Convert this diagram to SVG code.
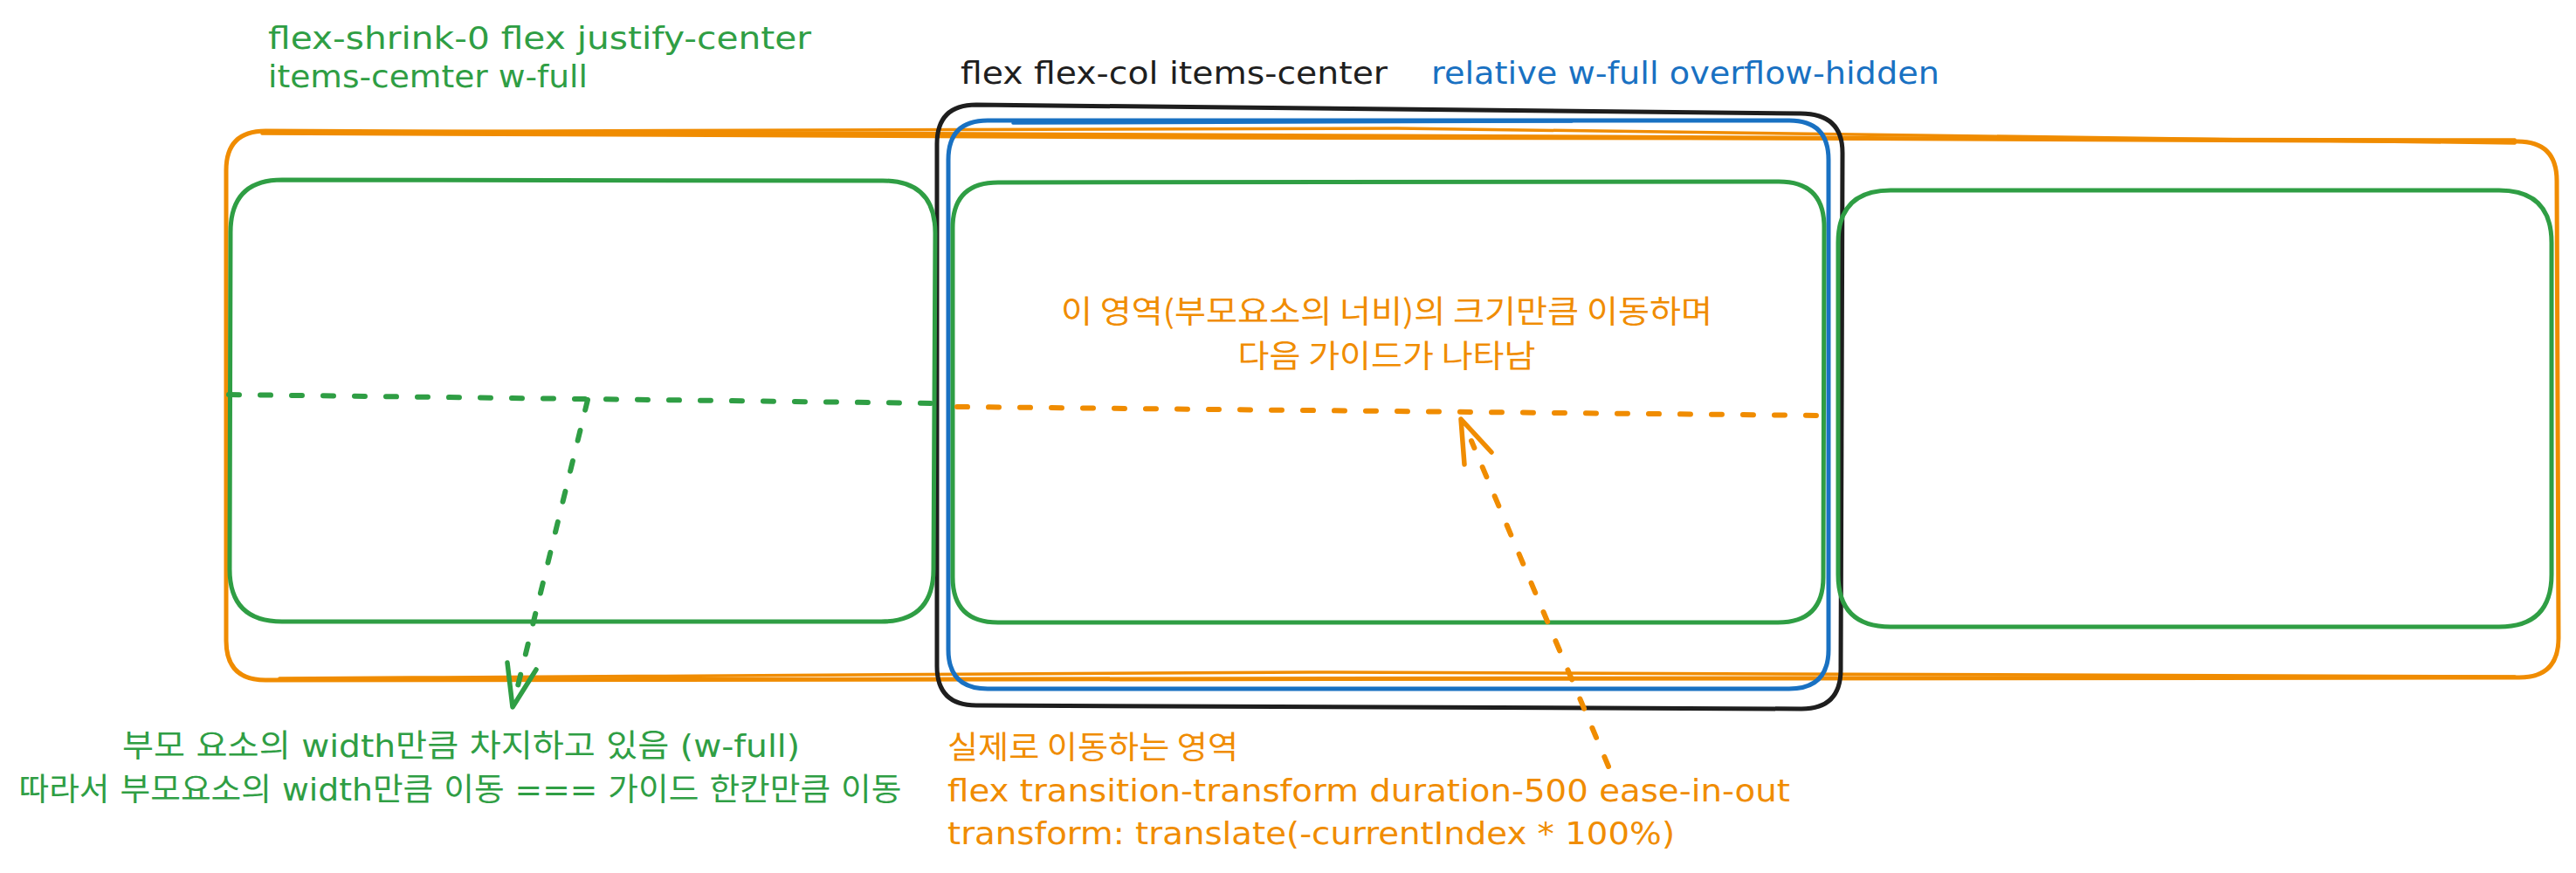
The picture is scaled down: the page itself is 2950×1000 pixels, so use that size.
<svg xmlns="http://www.w3.org/2000/svg" width="2950" height="1000" viewBox="0 0 2950 1000">
<style>
.t{font-family:"DejaVu Sans","Noto Sans CJK KR",sans-serif;font-size:36px}
.k{font-family:"Noto Sans CJK KR","DejaVu Sans",sans-serif;font-size:36px}
.g{fill:#2f9e44}.o{fill:#f08c00}.b{fill:#1971c2}.d{fill:#1e1e1e}
.box{fill:none;stroke-width:5;stroke-linecap:round;stroke-linejoin:round}
.thin{stroke-width:3.5}
.sg{stroke:#2f9e44}.so{stroke:#f08c00}.sb{stroke:#1971c2}.sd{stroke:#1e1e1e}
.dash{fill:none;stroke-width:6;stroke-linecap:round;stroke-dasharray:12 24}
.head{fill:none;stroke-width:5.5;stroke-linecap:round;stroke-linejoin:round}
</style>
<rect width="2950" height="1000" fill="#ffffff"/>
<g id="outer-track">
<path class="box so" d="M304,150 L2883,162 Q2928,162 2928,207 L2930,731 Q2930,776 2885,776 L304,779 Q259,779 259,734 L259,195 Q259,150 304,150 Z"/>
<path class="box thin so" d="M300,153 L1400,158 L2880,160"/>
<path class="box thin so" d="M320,151 L1600,147 L2880,164"/>
<path class="box thin so" d="M320,777 L1500,770 L2880,775"/>
</g>
<g id="flex-col">
<path class="box sd" d="M1118,120 L2062,130 Q2110,130 2110,175 L2108,767 Q2108,812 2063,812 L1118,808 Q1073,808 1073,763 L1073,165 Q1073,120 1118,120 Z"/>
</g>
<g id="overflow-hidden">
<path class="box sb" d="M1131,138 L2049,138 Q2094,138 2094,183 L2094,744 Q2094,789 2049,789 L1131,789 Q1086,789 1086,744 L1086,183 Q1086,138 1131,138 Z"/>
<path class="box thin sb" d="M1160,141 L1800,139"/>
</g>
<g id="guide-left">
<path class="box sg" d="M323,206 L1011,207 Q1071,207 1071,267 L1069,652 Q1069,712 1009,712 L323,712 Q263,712 263,652 L264,266 Q264,206 323,206 Z"/>
</g>
<g id="guide-middle">
<path class="box sg" d="M1143,209 L2037,208 Q2089,208 2089,260 L2088,661 Q2088,713 2036,713 L1143,713 Q1091,713 1091,661 L1091,261 Q1091,209 1143,209 Z"/>
</g>
<g id="guide-right">
<path class="box sg" d="M2165,218 L2862,218 Q2922,218 2922,278 L2922,658 Q2922,718 2862,718 L2165,718 Q2105,718 2105,658 L2105,278 Q2105,218 2165,218 Z"/>
</g>
<g id="connectors">
<path class="dash sg" d="M262,452 L1074,462"/>
<path class="dash sg" d="M673,458 L590,798"/>
<path class="head sg" d="M581,759 L587,810 L614,767"/>
<path class="dash so" d="M1096,466 L2087,476"/>
<path class="dash so" d="M1842,878 L1685,505"/>
<path class="head so" d="M1677,532 L1673,480 L1708,518"/>
</g>
<g id="labels">
<text class="t g" x="307" y="56" textLength="622" lengthAdjust="spacingAndGlyphs">flex-shrink-0 flex justify-center</text>
<text class="t g" x="307" y="100" textLength="366" lengthAdjust="spacingAndGlyphs">items-cemter w-full</text>
<text class="t d" x="1100" y="96" textLength="489" lengthAdjust="spacingAndGlyphs">flex flex-col items-center</text>
<text class="t b" x="1639" y="96" textLength="582" lengthAdjust="spacingAndGlyphs">relative w-full overflow-hidden</text>
<text class="k o" x="1588" y="370" text-anchor="middle" textLength="746" lengthAdjust="spacingAndGlyphs">이 영역(부모요소의 너비)의 크기만큼 이동하며</text>
<text class="k o" x="1588" y="421" text-anchor="middle" textLength="341" lengthAdjust="spacingAndGlyphs">다음 가이드가 나타남</text>
<text class="t g" x="528" y="867" text-anchor="middle" textLength="776" lengthAdjust="spacingAndGlyphs">부모 요소의 width만큼 차지하고 있음 (w-full)</text>
<text class="t g" x="527" y="917" text-anchor="middle" textLength="1011" lengthAdjust="spacingAndGlyphs">따라서 부모요소의 width만큼 이동 === 가이드 한칸만큼 이동</text>
<text class="k o" x="1085" y="869" textLength="333" lengthAdjust="spacingAndGlyphs">실제로 이동하는 영역</text>
<text class="t o" x="1085" y="918" textLength="965" lengthAdjust="spacingAndGlyphs">flex transition-transform duration-500 ease-in-out</text>
<text class="t o" x="1085" y="967" textLength="833" lengthAdjust="spacingAndGlyphs">transform: translate(-currentIndex * 100%)</text>
</g>
</svg>
